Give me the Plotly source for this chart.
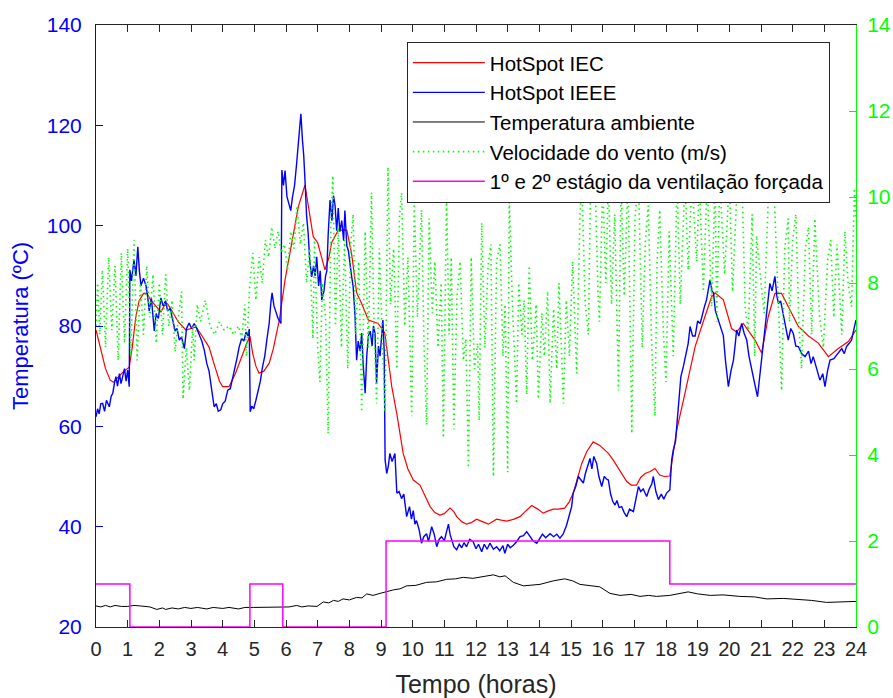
import plotly.graph_objects as go

# ---------------- data ----------------
iec_t = [0.0, 0.15, 0.3, 0.45, 0.55, 0.7, 0.85, 1.05, 1.15, 1.25, 1.36, 1.5, 1.6, 1.75, 1.9, 2.05, 2.15, 2.26,
         2.4, 2.6, 2.84, 3.0, 3.16, 3.35, 3.57, 3.75, 3.9, 4.0, 4.2, 4.4, 4.6, 4.74, 4.86, 4.95, 5.05, 5.15, 5.3,
         5.47, 5.6, 5.79, 5.97, 6.15, 6.39, 6.6, 6.7, 6.86, 7.0, 7.12, 7.23, 7.35, 7.44, 7.65, 7.92, 8.07, 8.23,
         8.39, 8.6, 8.91, 9.12, 9.34, 9.5, 9.7, 9.85, 10.02, 10.23, 10.4, 10.55, 10.7, 10.86, 11.0, 11.18, 11.3,
         11.39, 11.55, 11.7, 11.85, 12.02, 12.2, 12.39, 12.52, 12.65, 12.8, 12.97, 13.2, 13.39, 13.55, 13.76,
         13.95, 14.12, 14.3, 14.44, 14.6, 14.8, 14.95, 15.07, 15.2, 15.34, 15.5, 15.7, 15.91, 16.05, 16.18,
         16.34, 16.5, 16.65, 16.76, 16.9, 17.07, 17.2, 17.34, 17.5, 17.65, 17.8, 17.95, 18.12, 18.34, 18.6,
         18.92, 19.23, 19.44, 19.55, 19.81, 20.07, 20.23, 20.44, 20.65, 20.81, 21.02, 21.23, 21.44, 21.65,
         21.86, 22.18, 22.5, 22.81, 23.13, 23.44, 23.76, 24.0]
iec_v = [79.2, 75.5, 71.5, 69.2, 68.8, 69.8, 70.8, 71.8, 76.0, 81.5, 85.0, 86.5, 86.5, 85.0, 83.8, 82.8, 84.0, 84.4,
         83.0, 80.8, 79.2, 79.5, 79.8, 78.0, 75.8, 72.0, 69.0, 67.9, 67.9, 70.5, 74.0, 76.2, 78.0, 74.5, 72.0,
         70.6, 71.0, 72.6, 75.5, 81.2, 89.2, 95.7, 103.8, 108.1, 103.8, 97.8, 96.6, 94.0, 91.2, 93.5, 96.6, 99.1,
         99.1, 94.5, 86.6, 84.5, 81.2, 80.5, 78.6, 67.9, 62.5, 54.6, 51.5, 49.3, 48.3, 46.0, 44.0, 42.8, 42.3,
         42.6, 43.7, 43.0, 42.0, 41.0, 40.5, 40.8, 41.5, 41.0, 40.5, 41.0, 41.5, 41.3, 41.1, 41.5, 42.0, 43.0,
         44.2, 43.5, 42.7, 43.2, 43.5, 43.5, 43.7, 45.0, 46.7, 49.5, 52.6, 55.0, 56.9, 56.2, 55.3, 54.6, 53.2,
         51.5, 50.0, 49.0, 48.3, 48.3, 49.8, 50.6, 51.0, 51.6, 50.3, 50.0, 50.1, 59.3, 66.6, 75.9, 81.9, 85.8,
         86.6, 85.2, 79.5, 78.8, 80.5, 78.5, 77.2, 74.6, 81.9, 86.5, 86.5, 83.9, 79.9, 78.0, 76.6, 73.9, 75.5,
         76.9, 79.2]

ieee_t = [0.0, 0.05, 0.1, 0.15, 0.21, 0.27, 0.33, 0.42, 0.48, 0.53, 0.58, 0.63, 0.68, 0.74, 0.79, 0.84, 0.9,
          0.95, 1.0, 1.05, 1.07, 1.12, 1.2, 1.26, 1.32, 1.37, 1.42, 1.5, 1.58, 1.63, 1.68, 1.75, 1.84, 1.9, 1.97,
          2.05, 2.12, 2.2, 2.26, 2.34, 2.42, 2.5, 2.56, 2.63, 2.7, 2.79, 2.86, 2.94, 3.02, 3.1, 3.16, 3.25, 3.34,
          3.42, 3.5, 3.57, 3.63, 3.68, 3.73, 3.8, 3.86, 3.94, 4.0, 4.08, 4.16, 4.24, 4.3, 4.37, 4.45, 4.52, 4.6,
          4.67, 4.74, 4.8, 4.84, 4.87, 4.92, 4.98, 5.05, 5.12, 5.19, 5.26, 5.33, 5.4, 5.47, 5.52, 5.56, 5.62,
          5.68, 5.75, 5.84, 5.87, 5.92, 5.97, 6.03, 6.1, 6.15, 6.2, 6.27, 6.33, 6.38, 6.44, 6.47, 6.52, 6.56,
          6.6, 6.65, 6.7, 6.75, 6.81, 6.87, 6.92, 6.97, 7.03, 7.08, 7.13, 7.2, 7.25, 7.29, 7.33, 7.39, 7.45,
          7.5, 7.55, 7.6, 7.65, 7.7, 7.76, 7.82, 7.86, 7.92, 7.97, 8.02, 8.07, 8.12, 8.18, 8.23, 8.28, 8.34,
          8.39, 8.44, 8.5, 8.55, 8.6, 8.66, 8.72, 8.76, 8.81, 8.86, 8.92, 8.97, 9.02, 9.06, 9.1, 9.13, 9.18,
          9.23, 9.28, 9.35, 9.44, 9.5, 9.57, 9.65, 9.72, 9.81, 9.9, 9.96, 10.02, 10.07, 10.12, 10.2, 10.28,
          10.35, 10.44, 10.5, 10.6, 10.68, 10.76, 10.84, 10.91, 11.0, 11.07, 11.13, 11.18, 11.23, 11.3, 11.39,
          11.47, 11.55, 11.62, 11.7, 11.8, 11.91, 12.0, 12.08, 12.18, 12.26, 12.35, 12.44, 12.55, 12.65, 12.75,
          12.85, 12.91, 13.0, 13.08, 13.18, 13.28, 13.39, 13.5, 13.6, 13.7, 13.8, 13.92, 14.0, 14.1, 14.2,
          14.34, 14.45, 14.55, 14.65, 14.75, 14.86, 14.95, 15.02, 15.07, 15.15, 15.23, 15.3, 15.39, 15.45,
          15.52, 15.6, 15.66, 15.72, 15.81, 15.88, 15.97, 16.05, 16.12, 16.18, 16.25, 16.32, 16.39, 16.45,
          16.52, 16.6, 16.68, 16.76, 16.85, 16.97, 17.05, 17.13, 17.2, 17.28, 17.39, 17.47, 17.55, 17.6,
          17.68, 17.76, 17.85, 17.93, 18.02, 18.12, 18.18, 18.23, 18.3, 18.36, 18.42, 18.47, 18.55, 18.62,
          18.7, 18.76, 18.84, 18.92, 19.0, 19.08, 19.15, 19.22, 19.28, 19.34, 19.39, 19.45, 19.5, 19.56,
          19.65, 19.72, 19.81, 19.88, 19.97, 20.05, 20.13, 20.18, 20.23, 20.3, 20.39, 20.47, 20.55, 20.62,
          20.7, 20.8, 20.89, 20.95, 21.02, 21.12, 21.2, 21.28, 21.35, 21.44, 21.5, 21.55, 21.62, 21.7, 21.78,
          21.86, 21.94, 22.02, 22.1, 22.18, 22.28, 22.39, 22.5, 22.58, 22.65, 22.75, 22.86, 22.95, 23.02,
          23.1, 23.18, 23.3, 23.44, 23.55, 23.63, 23.7, 23.78, 23.86, 23.92, 24.0]
ieee_v = [61.9, 63.5, 62.5, 64.5, 64.6, 63.0, 65.2, 63.9, 66.0, 66.6, 68.5, 69.9, 68.0, 70.5, 68.5, 70.0, 71.5,
          69.0, 71.2, 67.9, 91.2, 89.0, 93.2, 90.0, 95.8, 91.0, 88.0, 89.5, 88.0, 86.0, 83.0, 85.5, 79.0, 82.5,
          81.5, 85.6, 84.0, 85.0, 83.0, 83.5, 81.2, 79.0, 79.5, 77.2, 77.8, 75.5, 79.5, 80.6, 79.5, 80.5, 79.8,
          78.5, 77.0, 75.2, 72.5, 71.0, 68.6, 66.0, 63.9, 64.5, 63.0, 63.3, 64.5, 65.0, 67.2, 67.5, 69.5, 71.2,
          73.5, 75.8, 77.5, 77.0, 78.8, 78.0, 79.4, 62.9, 64.0, 63.5, 65.2, 67.0, 69.0, 71.9, 74.0, 77.5, 80.6,
          84.5, 86.6, 84.0, 83.0, 81.5, 80.5, 111.1, 108.0, 111.0, 105.8, 104.0, 103.0, 105.5, 108.0, 112.0,
          116.0, 120.0, 122.3, 117.0, 114.0, 109.0, 102.0, 98.5, 93.0, 89.8, 92.0, 90.0, 93.8, 88.0, 91.0,
          85.2, 87.0, 90.0, 91.0, 98.0, 105.1, 101.0, 106.0, 104.0, 99.0, 103.5, 98.8, 101.0, 97.0, 103.0,
          96.0, 95.0, 91.8, 90.0, 87.9, 82.0, 73.2, 77.0, 75.0, 78.6, 72.0, 66.6, 74.0, 78.0, 79.0, 76.0, 80.0,
          78.6, 68.7, 76.0, 74.0, 79.0, 81.2, 75.0, 53.3, 50.6, 52.0, 54.6, 53.0, 54.6, 46.7, 47.0, 45.6, 46.5,
          42.0, 44.0, 41.5, 43.2, 40.5, 41.2, 39.5, 36.7, 38.0, 38.6, 37.0, 40.0, 38.5, 36.0, 37.5, 38.0, 37.2,
          39.0, 40.5, 38.5, 37.3, 36.0, 35.4, 36.5, 35.8, 36.8, 36.0, 37.5, 37.0, 35.6, 36.5, 35.0, 36.5, 35.5,
          36.7, 35.5, 36.0, 35.2, 36.2, 34.7, 36.5, 35.8, 36.3, 37.0, 38.0, 38.2, 39.0, 38.0, 37.2, 36.7, 37.5,
          38.5, 37.8, 38.6, 38.0, 38.5, 37.7, 38.5, 40.3, 42.5, 44.0, 46.7, 48.0, 50.0, 49.5, 48.7, 50.5, 52.0,
          53.6, 51.5, 54.0, 52.6, 50.0, 48.0, 50.0, 49.5, 49.3, 46.5, 45.0, 44.3, 45.2, 43.8, 44.0, 42.8, 42.0,
          43.5, 43.0, 45.5, 48.0, 47.0, 47.5, 46.0, 47.5, 48.5, 50.0, 47.0, 45.4, 46.5, 45.5, 46.7, 47.3, 53.3,
          55.3, 57.0, 62.0, 66.0, 69.9, 72.0, 74.0, 76.5, 79.9, 78.0, 78.0, 81.0, 80.5, 82.5, 84.0, 85.2, 87.5,
          89.2, 87.0, 86.6, 83.0, 81.2, 80.0, 78.1, 73.0, 67.9, 71.0, 73.2, 76.0, 79.2, 78.0, 80.5, 78.5, 77.2,
          74.0, 71.2, 68.5, 65.9, 69.5, 73.2, 78.6, 84.0, 88.5, 87.0, 89.9, 86.0, 84.5, 85.0, 82.5, 80.0, 77.2,
          79.5, 78.5, 76.0, 75.9, 74.5, 73.9, 75.0, 72.5, 73.9, 71.5, 69.2, 70.5, 67.9, 71.0, 73.2, 73.5, 74.5,
          75.5, 74.5, 75.9, 76.5, 77.2, 79.0, 81.2]

amb_t = [0.0, 0.15, 0.3, 0.45, 0.6, 0.8, 1.0, 1.2, 1.4, 1.7, 1.92, 2.1, 2.2, 2.4, 2.6, 2.8, 3.0, 3.2, 3.5, 3.7,
         4.0, 4.2, 4.5, 4.7, 4.97, 5.5, 5.9, 6.1, 6.34, 6.5, 6.7, 6.98, 7.18, 7.35, 7.5, 7.65, 7.8, 8.0, 8.23,
         8.4, 8.55, 8.75, 8.97, 9.2, 9.39, 9.6, 9.81, 10.1, 10.44, 10.75, 11.07, 11.35, 11.6, 11.9, 12.13,
         12.35, 12.55, 12.75, 12.92, 13.18, 13.5, 14.02, 14.44, 14.8, 15.05, 15.28, 15.7, 15.91, 16.23, 16.55,
         16.9, 17.18, 17.45, 17.7, 18.12, 18.4, 18.7, 19.0, 19.4, 19.8, 20.33, 20.8, 21.18, 21.7, 22.23, 22.6,
         23.07, 23.5, 24.0]
amb_v = [24.2, 24.0, 24.3, 24.0, 24.3, 24.1, 24.1, 24.3, 24.2, 24.0, 23.5, 23.8, 23.5, 23.8, 23.6, 23.9, 23.7,
         23.9, 23.6, 23.9, 23.7, 23.9, 23.6, 23.9, 23.9, 23.9, 23.9, 24.0, 24.3, 24.0, 24.2, 24.1, 25.0, 24.8,
         25.3, 25.1, 25.6, 25.4, 25.9, 25.8, 26.6, 26.3, 26.7, 27.1, 27.4, 27.6, 28.2, 28.3, 28.9, 29.0, 29.5,
         29.6, 29.9, 29.7, 29.9, 30.2, 30.4, 30.0, 30.2, 28.9, 28.2, 28.5, 29.2, 29.6, 29.2, 28.5, 28.2, 28.0,
         26.7, 26.3, 26.5, 26.1, 26.3, 26.1, 26.3, 26.6, 27.0, 26.6, 26.3, 26.4, 26.1, 26.0, 25.6, 25.7, 25.5,
         25.3, 24.9, 25.0, 25.1]

wind_t = [0.0, 0.05, 0.12, 0.2, 0.3, 0.4, 0.5, 0.6, 0.7, 0.8, 0.9, 1.0, 1.1, 1.2, 1.3, 1.4, 1.5, 1.6, 1.7, 1.8,
          1.9, 2.0, 2.1, 2.2, 2.3, 2.4, 2.5, 2.6, 2.7, 2.75, 2.85, 2.95, 3.05, 3.1, 3.2, 3.3, 3.45, 3.6, 3.75,
          3.9, 4.05, 4.2, 4.35, 4.5, 4.6, 4.7, 4.75, 4.85, 4.95, 5.05, 5.15, 5.25, 5.35, 5.45, 5.55, 5.65, 5.75,
          5.85, 5.95, 6.05, 6.15, 6.25, 6.35, 6.45, 6.55, 6.65, 6.75, 6.85, 6.9, 7.0, 7.07, 7.15, 7.25, 7.33,
          7.42, 7.48, 7.56, 7.65, 7.75, 7.85, 7.95, 8.05, 8.12, 8.2, 8.3, 8.39, 8.5, 8.6, 8.7, 8.78, 8.86,
          8.95, 9.05, 9.13, 9.22, 9.3, 9.4, 9.5, 9.58, 9.65, 9.75, 9.85, 9.97, 10.05, 10.15, 10.28, 10.36,
          10.44, 10.52, 10.62, 10.7, 10.8, 10.9, 10.97, 11.07, 11.15, 11.22, 11.3, 11.4, 11.5, 11.6, 11.68,
          11.76, 11.85, 11.95, 12.05, 12.1, 12.18, 12.28, 12.38, 12.47, 12.55, 12.65, 12.76, 12.85, 12.92,
          13.0, 13.05, 13.15, 13.28, 13.35, 13.45, 13.52, 13.6, 13.68, 13.78, 13.9, 13.97, 14.08, 14.16,
          14.26, 14.34, 14.45, 14.55, 14.62, 14.76, 14.85, 14.95, 15.05, 15.18, 15.28, 15.34, 15.45, 15.55,
          15.62, 15.76, 15.85, 15.9, 16.0, 16.1, 16.18, 16.28, 16.38, 16.5, 16.58, 16.68, 16.8, 16.92, 17.02,
          17.13, 17.25, 17.35, 17.44, 17.55, 17.65, 17.72, 17.8, 17.92, 18.0, 18.1, 18.23, 18.35, 18.45, 18.6,
          18.7, 18.82, 18.97, 19.05, 19.18, 19.3, 19.44, 19.55, 19.6, 19.7, 19.85, 20.0, 20.1, 20.25, 20.4,
          20.5, 20.6, 20.72, 20.8, 20.86, 21.0, 21.1, 21.25, 21.4, 21.55, 21.65, 21.75, 21.86, 21.9, 22.0,
          22.1, 22.2, 22.28, 22.4, 22.5, 22.6, 22.7, 22.85, 22.97, 23.1, 23.2, 23.3, 23.4, 23.55, 23.65,
          23.75, 23.86, 23.95, 24.0]
wind_v = [7.0, 8.0, 6.8, 8.3, 6.5, 8.6, 6.9, 8.4, 6.2, 8.7, 6.6, 8.8, 6.3, 9.0, 6.2, 8.0, 6.8, 8.4, 7.2, 8.2,
          6.6, 8.0, 6.8, 8.2, 7.0, 7.6, 6.4, 7.2, 7.8, 5.3, 6.5, 5.5, 7.0, 6.2, 7.5, 7.1, 7.6, 7.0, 6.8, 7.1,
          6.9, 7.0, 6.8, 7.0, 6.7, 7.5, 6.3, 7.9, 8.7, 7.6, 8.6, 8.0, 9.0, 8.6, 9.3, 8.8, 9.2, 8.7, 8.9, 8.3,
          9.2, 8.8, 9.8, 8.9, 9.4, 8.0, 8.8, 6.7, 9.0, 6.5, 5.7, 8.0, 7.2, 4.5, 9.5, 10.5, 7.0, 9.3, 6.5, 9.0,
          6.0, 9.0, 9.6, 6.8, 8.5, 5.0, 9.2, 6.5, 10.1, 7.0, 5.2, 8.8, 6.5, 5.0, 10.7, 7.5, 8.8, 6.0, 9.5,
          10.1, 7.0, 8.6, 4.9, 9.9, 7.2, 9.7, 6.5, 4.7, 9.5, 7.3, 8.5, 6.5, 8.0, 4.4, 10.0, 6.8, 8.6, 4.6, 7.7,
          8.5, 6.2, 6.7, 3.7, 8.6, 6.0, 6.6, 4.8, 9.4, 6.5, 8.4, 8.9, 3.5, 8.5, 8.9, 6.3, 7.5, 3.6, 10.0, 7.5,
          5.2, 8.0, 6.8, 7.6, 5.4, 8.4, 6.2, 7.5, 5.3, 7.3, 6.3, 7.8, 5.2, 7.4, 6.0, 8.0, 5.2, 7.6, 6.3, 8.5,
          5.9, 9.5, 10.4, 7.5, 6.8, 10.4, 10.4, 7.8, 7.1, 10.4, 8.0, 10.4, 7.5, 9.6, 5.5, 10.4, 7.7, 10.4, 4.5,
          9.5, 10.4, 6.5, 9.0, 9.8, 6.5, 4.9, 8.5, 9.7, 6.8, 5.7, 9.2, 6.3, 10.4, 7.5, 10.4, 8.3, 10.4, 8.5,
          10.4, 7.8, 10.4, 7.45, 10.4, 7.1, 10.4, 8.2, 10.4, 7.8, 10.3, 10.4, 7.4, 6.9, 9.6, 6.3, 9.1, 8.0,
          7.3, 10.4, 10.4, 7.5, 5.5, 8.8, 9.5, 7.1, 9.0, 9.6, 7.0, 6.0, 8.8, 9.3, 6.8, 9.5, 7.2, 6.5, 8.5, 9.0,
          7.2, 8.9, 6.8, 9.2, 8.0, 7.45, 10.2, 9.5]

vent_t = [0.0, 1.07, 4.86, 5.9, 9.16, 18.12, 24.0]
vent_v = [1, 0, 1, 0, 2, 1, 1]

x_ticks = list(range(0, 25))
yl_ticks = [20, 40, 60, 80, 100, 120, 140]
yr_ticks = [0, 2, 4, 6, 8, 10, 12, 14]

names = ["HotSpot IEC", "HotSpot IEEE", "Temperatura ambiente",
         "Velocidade do vento (m/s)", "1º e 2º estágio da ventilação forçada"]

# ---------------- figure ----------------
fig = go.Figure()
fig.add_trace(go.Scatter(x=iec_t, y=iec_v, mode="lines", name=names[0],
                         line=dict(color="#ff0000", width=1.2)))
fig.add_trace(go.Scatter(x=ieee_t, y=ieee_v, mode="lines", name=names[1],
                         line=dict(color="#0000ff", width=1.4)))
fig.add_trace(go.Scatter(x=amb_t, y=amb_v, mode="lines", name=names[2],
                         line=dict(color="#000000", width=1)))
fig.add_trace(go.Scatter(x=wind_t, y=wind_v, mode="lines", name=names[3], yaxis="y2",
                         line=dict(color="#00ff00", width=1.6, dash="1.5px,3.5px")))
fig.add_trace(go.Scatter(x=vent_t, y=vent_v, mode="lines", name=names[4], yaxis="y2",
                         line=dict(color="#ff00ff", width=1.5, shape="hv")))

fig.update_layout(
    width=893, height=698,
    margin=dict(l=96, r=37, t=25, b=71),
    paper_bgcolor="white", plot_bgcolor="white",
    font=dict(family="Liberation Sans, Arial, sans-serif", color="#262626"),
    showlegend=True,
    legend=dict(x=0.409, y=0.972, xanchor="left", yanchor="top",
                bgcolor="white", bordercolor="#262626", borderwidth=1,
                font=dict(size=20.5, color="#000000", family="Liberation Sans, Arial, sans-serif"),
                itemwidth=72, tracegroupgap=0),
    xaxis=dict(range=[0, 24], tickvals=x_ticks, ticktext=[str(v) for v in x_ticks], automargin=False,
               ticks="inside", ticklen=7, tickcolor="#262626", showline=True, linecolor="#262626",
               linewidth=1, mirror="ticks", showgrid=False, zeroline=False, ticklabelstandoff=4,
               tickfont=dict(family="Liberation Sans Narrow, Arial Narrow, sans-serif", size=20, color="#262626"),
               title=dict(text="Tempo (horas)", standoff=22,
                          font=dict(family="Liberation Sans Narrow, Arial Narrow, sans-serif", size=25, color="#262626"))),
    yaxis=dict(range=[20, 140], tickvals=yl_ticks, ticks="inside", ticklen=7, tickcolor="#0000ff",
               showline=True, linecolor="#0000ff", linewidth=1, showgrid=False, zeroline=False,
               automargin=False, ticklabelstandoff=9,
               tickfont=dict(size=21, color="#0000ff"),
               title=dict(text="Temperatura (ºC)", standoff=12,
                          font=dict(size=22, color="#0000ff"))),
    yaxis2=dict(range=[0, 14], tickvals=yr_ticks, overlaying="y", side="right", anchor="x",
                ticks="inside", ticklen=7, tickcolor="#00ff00", showline=True, linecolor="#00ff00",
                linewidth=1, showgrid=False, zeroline=False, automargin=False, ticklabelstandoff=6,
                tickfont=dict(size=21, color="#00ff00")),
)

fig.write_html("out.html", config={"displayModeBar": False},
               post_script="document.body.style.margin='0px';")
